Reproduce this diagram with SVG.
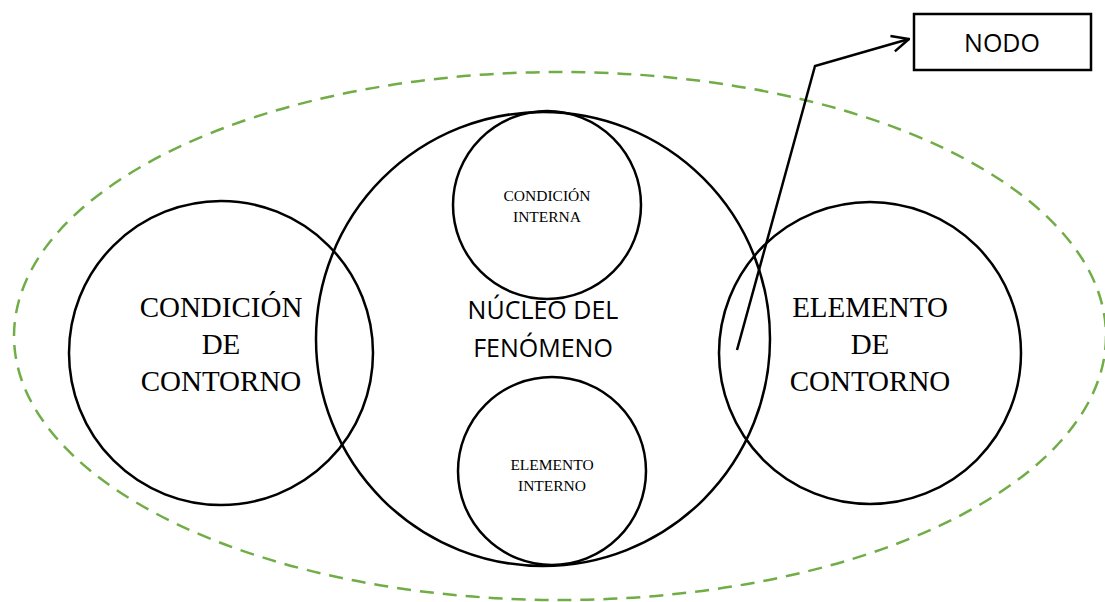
<svg xmlns="http://www.w3.org/2000/svg" width="1105" height="602" viewBox="0 0 1105 602">
<style>
.c{fill:none;stroke:#000;stroke-width:2.5}
.big{font-family:"Liberation Serif",serif;font-size:29px;fill:#000;text-anchor:middle}
.small{font-family:"Liberation Serif",serif;font-size:15.5px;fill:#000;text-anchor:middle}
.sans{font-family:"Open Sans","Liberation Sans",sans-serif;font-size:25px;fill:#000;text-anchor:middle}
</style>
<defs>
<marker id="arr" viewBox="0 0 20 20" refX="19" refY="10" markerWidth="20" markerHeight="20" markerUnits="userSpaceOnUse" orient="auto">
<path d="M2,2 L19,10 L2,18" fill="none" stroke="#000" stroke-width="2.5"/>
</marker>
</defs>
<rect width="1105" height="602" fill="#fff"/>
<g id="boundary">
<ellipse cx="560" cy="336" rx="546" ry="264" fill="none" stroke="#70ad47" stroke-width="2.5" stroke-dasharray="14,9"/>
</g>
<g id="condicion-contorno">
<circle class="c" cx="221" cy="353" r="152"/>
<text class="big" x="221" y="317">CONDICIÓN</text>
<text class="big" x="221" y="354">DE</text>
<text class="big" x="221" y="391">CONTORNO</text>
</g>
<g id="nucleo">
<circle class="c" cx="543" cy="339" r="227"/>
<text class="sans" x="543" y="319">NÚCLEO DEL</text>
<text class="sans" x="543" y="357">FENÓMENO</text>
</g>
<g id="condicion-interna">
<circle class="c" cx="547" cy="205" r="94"/>
<text class="small" x="547" y="201">CONDICIÓN</text>
<text class="small" x="547" y="222">INTERNA</text>
</g>
<g id="elemento-interno">
<circle class="c" cx="552" cy="471" r="94"/>
<text class="small" x="552" y="470">ELEMENTO</text>
<text class="small" x="552" y="491">INTERNO</text>
</g>
<g id="elemento-contorno">
<circle class="c" cx="870" cy="353" r="151"/>
<text class="big" x="870" y="317">ELEMENTO</text>
<text class="big" x="870" y="354">DE</text>
<text class="big" x="870" y="391">CONTORNO</text>
</g>
<g id="nodo">
<rect x="914" y="14" width="177" height="56" fill="#fff" stroke="#000" stroke-width="2.5"/>
<text class="sans" x="1002" y="52">NODO</text>
</g>
<g id="connectors">
<polyline points="737,350 815,66 909,39" fill="none" stroke="#000" stroke-width="2.5" marker-end="url(#arr)"/>
</g>
</svg>
